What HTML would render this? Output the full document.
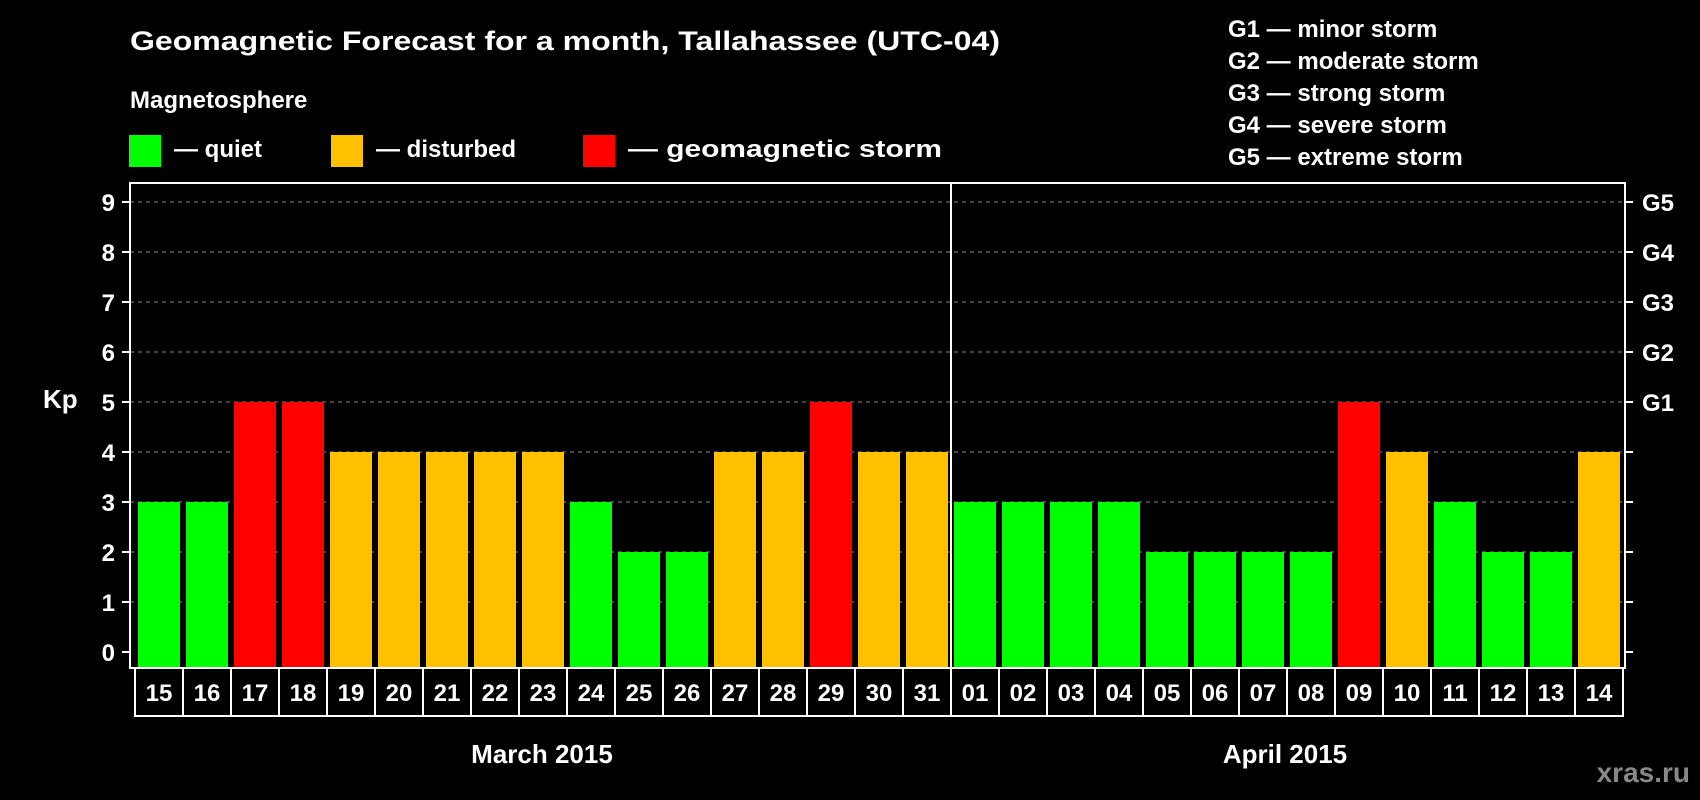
<!DOCTYPE html>
<html><head><meta charset="utf-8"><style>
html,body{margin:0;padding:0;background:#000;}
svg{display:block;font-family:"Liberation Sans",Arial,sans-serif;font-weight:bold;}
</style></head><body>
<svg id="chart" width="1700" height="800" viewBox="0 0 1700 800">
<rect x="0" y="0" width="1700" height="800" fill="#000"/>
<text x="130" y="50" font-size="27" fill="#fff" textLength="870" lengthAdjust="spacingAndGlyphs">Geomagnetic Forecast for a month, Tallahassee (UTC-04)</text>
<text x="130" y="108" font-size="24" fill="#fff">Magnetosphere</text>
<g><rect x="129" y="135" width="32" height="32" fill="#00ff00"/><text x="174" y="157" font-size="24" fill="#fff">— quiet</text></g>
<g><rect x="331" y="135" width="32" height="32" fill="#ffc000"/><text x="376" y="157" font-size="24" fill="#fff">— disturbed</text></g>
<g><rect x="583" y="135" width="32" height="32" fill="#ff0000"/><text x="628" y="157" font-size="24" fill="#fff" textLength="314" lengthAdjust="spacingAndGlyphs">— geomagnetic storm</text></g>
<g font-size="24" fill="#fff">
<text x="1228" y="37">G1 — minor storm</text>
<text x="1228" y="69">G2 — moderate storm</text>
<text x="1228" y="101">G3 — strong storm</text>
<text x="1228" y="133">G4 — severe storm</text>
<text x="1228" y="165">G5 — extreme storm</text>
</g>
<text x="43" y="408" font-size="26" fill="#fff">Kp</text>
<g id="grid"></g><g id="bars"></g><g id="axes"></g><g id="labels"></g>
<text x="542" y="763" font-size="26" fill="#fff" text-anchor="middle">March 2015</text>
<text x="1285" y="763" font-size="26" fill="#fff" text-anchor="middle">April 2015</text>
<text x="1690" y="782" font-size="28" fill="#888" text-anchor="end">xras.ru</text>
</svg>
<script>
const days = ["15","16","17","18","19","20","21","22","23","24","25","26","27","28","29","30","31","01","02","03","04","05","06","07","08","09","10","11","12","13","14"];
const kpValues = [3,3,5,5,4,4,4,4,4,3,2,2,4,4,5,4,4,3,3,3,3,2,2,2,2,5,4,3,2,2,4];
const yTicks = [0,1,2,3,4,5,6,7,8,9];
const gLabels = ["G1","G2","G3","G4","G5"];
const gLevels = [5,6,7,8,9];
const monthSplit = 17;

const NS="http://www.w3.org/2000/svg";
const L=130,R=1625,T=183,B=668,x0=138,pitch=48,bw=42;
const y=v=>652-v*50;
const x=i=>x0+i*pitch;
function mk(tag,attrs,parent){const e=document.createElementNS(NS,tag);for(const k in attrs)e.setAttribute(k,attrs[k]);parent.appendChild(e);return e;}
const grid=document.getElementById('grid'),bars=document.getElementById('bars'),axes=document.getElementById('axes'),labels=document.getElementById('labels');
yTicks.forEach(v=>{
  if(v>0){const g=mk('line',{x1:L,x2:R,y1:y(v),y2:y(v),stroke:'#888','stroke-width':1,'stroke-dasharray':'4,4'},grid);
  
  }
  const t1=mk('line',{x1:122,x2:L,y1:y(v),y2:y(v),stroke:'#fff','stroke-width':2},axes);
  
  
  const t2=mk('line',{x1:R,x2:1633,y1:y(v),y2:y(v),stroke:'#fff','stroke-width':2},axes);
  
  
  const tl=mk('text',{x:115,y:y(v)+9,'font-size':24,fill:'#fff','text-anchor':'end'},axes);
  tl.textContent=v;
  
  
});
gLabels.forEach((g,i)=>{
  const t=mk('text',{x:1642,y:y(gLevels[i])+9,'font-size':24,fill:'#fff'},axes);
  t.textContent=g;
  
  
});
kpValues.forEach((v,i)=>{
  const c=v>=5?'#ff0000':(v>=4?'#ffc000':'#00ff00');
  const b=mk('rect',{x:x(i),y:y(v),width:bw,height:B-y(v),fill:c},bars);
  
  
  const bx=mk('rect',{x:x(i)-3,y:B,width:pitch,height:48,fill:'none',stroke:'#fff','stroke-width':2},labels);
  
  
  const t=mk('text',{x:x(i)+bw/2,y:B+33,'font-size':24,fill:'#fff','text-anchor':'middle'},labels);
  t.textContent=days[i];
  
  
});
const fr=mk('rect',{x:L,y:T,width:R-L,height:B-T,fill:'none',stroke:'#fff','stroke-width':2},axes);


const dx=x(monthSplit)-3;
const dv=mk('line',{x1:dx,x2:dx,y1:T,y2:B,stroke:'#fff','stroke-width':2},axes);


</script>
</body></html>
